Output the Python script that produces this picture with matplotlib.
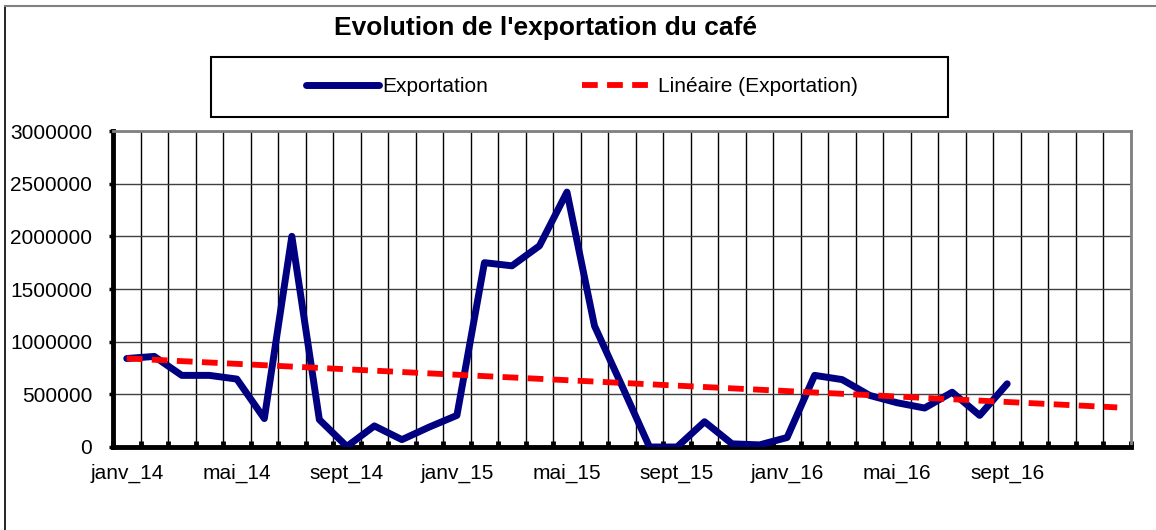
import numpy as np
import matplotlib.pyplot as plt
from matplotlib.lines import Line2D
from matplotlib.patches import Rectangle

plt.rcParams['font.family'] = ['Liberation Sans', 'DejaVu Sans']

# monthly categories, janv_14 .. janv_17 (trend runs 4 months past the data)
mois = ['janv', 'févr', 'mars', 'avr', 'mai', 'juin', 'juil', 'août',
        'sept', 'oct', 'nov', 'déc']
annees = ['14', '15', '16', '17']
categories = [f"{m}_{a}" for a in annees for m in mois][:37]

exportation = [840000, 860000, 680000, 680000, 645000, 270000, 2000000, 260000,
               5000, 200000, 70000, 190000, 300000, 1750000, 1720000, 1910000,
               2420000, 1150000, 580000, 0, 0, 240000, 30000, 20000,
               90000, 680000, 640000, 490000, 420000, 370000, 520000, 300000,
               600000]

x_data = np.arange(len(exportation))
x_all = np.arange(len(categories))
coef = np.polyfit(x_data, exportation, 1)
tendance = np.polyval(coef, x_all)

W, H = 1156, 530
fig = plt.figure(figsize=(W / 100, H / 100), dpi=100)

# outer chart frame (left and top edges are the ones in view)
fig.add_artist(Line2D([5 / W, 5 / W], [0, 1 - 6 / H], color='black', lw=1.2))
fig.add_artist(Line2D([5 / W, 1], [1 - 6 / H, 1 - 6 / H], color='#808080', lw=1.5))

ax = fig.add_axes([113 / W, 1 - 447 / H, (1131 - 113) / W, (447 - 131) / H])

ax.plot(x_data, exportation, color='#000080', lw=5, solid_joinstyle='round',
        solid_capstyle='round', label='Exportation', zorder=3)
ax.plot(x_all, tendance, color='#ff0000', lw=4.2, dashes=(2.7, 1.6),
        label='Linéaire (Exportation)', zorder=4)

ax.set_xlim(-0.5, len(categories) - 0.5)
ax.set_ylim(0, 3000000)
ax.set_yticks(np.arange(0, 3000001, 500000))
ax.set_yticklabels([str(v) for v in range(0, 3000001, 500000)])

# labels only on months that carry data
ax.set_xticks(x_data[::4])
ax.set_xticklabels(categories[:len(exportation):4])
ax.set_xticks(np.arange(-0.5, len(categories)), minor=True)

ax.grid(axis='x', which='minor', color='black', lw=1)
ax.grid(axis='y', which='major', color='#404040', lw=1)

ax.tick_params(axis='x', which='major', length=0, pad=12, labelsize=15)
ax.tick_params(axis='x', which='minor', direction='in', length=4, width=3.5,
               color='black')
ax.tick_params(axis='y', direction='out', length=3, width=2.5, pad=12,
               labelsize=15)

for side in ('left', 'bottom'):
    ax.spines[side].set_linewidth(3.5)
    ax.spines[side].set_color('black')
for side in ('top', 'right'):
    ax.spines[side].set_linewidth(2)
    ax.spines[side].set_color('#808080')

fig.text(546 / W, 1 - 28 / H, "Evolution de l'exportation du café",
         ha='center', va='center', fontsize=19, fontweight='bold')

# legend box
fig.add_artist(Rectangle((211 / W, 1 - 117 / H), (948 - 211) / W, 60 / H,
                         transform=fig.transFigure, fill=False,
                         edgecolor='black', lw=1.5))
fig.legend(loc='center', bbox_to_anchor=(582 / W, 1 - 87 / H), ncol=2,
           frameon=False, fontsize=15, handlelength=3.5, handletextpad=0.15,
           columnspacing=4.5)

fig.savefig('out.png', dpi=100)
